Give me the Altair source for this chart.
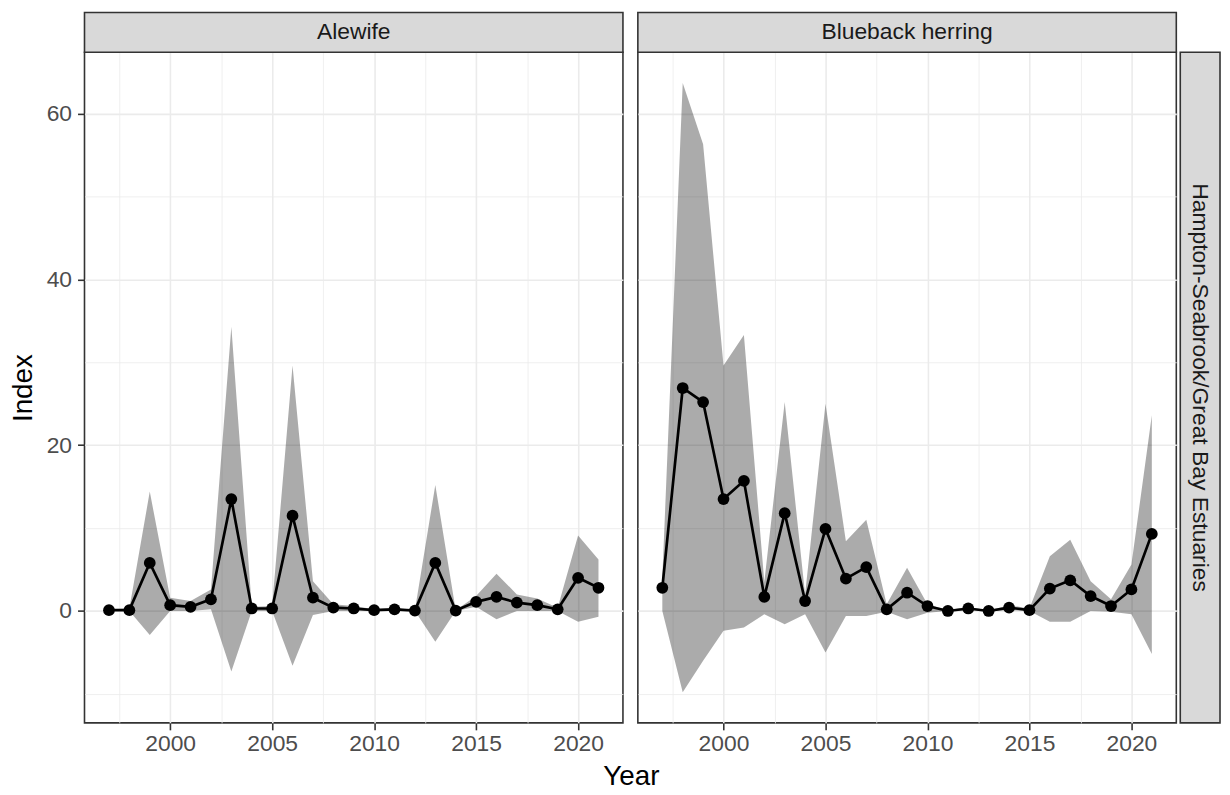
import altair as alt
import pandas as pd

years = list(range(1997, 2022))

alewife_index = [0.1, 0.1, 5.8, 0.7, 0.5, 1.4, 13.5, 0.3, 0.3, 11.5, 1.6, 0.4, 0.3, 0.1, 0.2,
                 0.05, 5.8, 0.05, 1.1, 1.7, 1.0, 0.7, 0.2, 4.0, 2.8]
alewife_lower = [0.0, 0.0, -2.9, 0.0, 0.0, 0.2, -7.3, 0.0, 0.0, -6.6, -0.5, 0.0, 0.0, 0.0, 0.0,
                 0.0, -3.7, 0.0, 0.5, -1.0, 0.0, 0.0, 0.0, -1.3, -0.7]
alewife_upper = [0.2, 0.3, 14.4, 1.6, 1.2, 2.6, 34.3, 0.5, 0.6, 29.6, 3.6, 0.8, 0.6, 0.2, 0.4,
                 0.1, 15.2, 0.1, 1.8, 4.5, 2.0, 1.5, 0.4, 9.1, 6.2]

blueback_index = [2.8, 26.9, 25.2, 13.5, 15.7, 1.7, 11.8, 1.2, 9.9, 3.9, 5.3, 0.2, 2.2, 0.6, 0.0,
                  0.3, 0.0, 0.4, 0.1, 2.7, 3.7, 1.8, 0.6, 2.6, 9.3]
blueback_lower = [0.0, -9.8, -6.0, -2.4, -2.0, -0.4, -1.6, -0.4, -5.0, -0.6, -0.6, -0.1, -1.0, -0.2, 0.0,
                  0.1, 0.0, 0.1, 0.0, -1.3, -1.3, 0.0, -0.1, -0.4, -5.2]
blueback_upper = [4.0, 63.7, 56.3, 29.6, 33.3, 3.5, 25.2, 2.0, 25.0, 8.4, 11.0, 0.8, 5.2, 0.8, 0.1,
                  0.5, 0.05, 0.7, 0.3, 6.6, 8.6, 3.6, 1.4, 5.6, 23.6]

species = ["Alewife", "Blueback herring"]
region = "Hampton-Seabrook/Great Bay Estuaries"

x_grid_values = [1997.5, 2000, 2002.5, 2005, 2007.5, 2010, 2012.5, 2015, 2017.5, 2020]
y_grid_values = [-10, 0, 10, 20, 30, 40, 50, 60]

X_DOMAIN = [1995.8, 2022.2]
Y_DOMAIN = [-13.5, 67.4]

FONT = "Liberation Sans"
PW_L, PW_R, PH = 542, 542, 675
STRIP_H = 40
LABEL_SIZE = 23
TITLE_SIZE = 28

def grid_cond(mod, major, minor):
    return {"condition": {"test": f"datum.value % {mod} === 0", "value": major}, "value": minor}

def x_axis(show_title):
    kw = dict(
        values=x_grid_values,
        labelExpr="datum.value % 5 === 0 ? format(datum.value, 'd') : ''",
        tickOpacity=grid_cond(5, 1, 0),
        gridWidth=grid_cond(5, 1.6, 0.8),
        gridColor="#EBEBEB",
        domain=False,
        tickColor="#333333",
        tickSize=7,
        tickWidth=1.6,
        labelFont=FONT,
        labelFontSize=LABEL_SIZE,
        labelColor="#4D4D4D",
        labelPadding=3,
        labelFlush=False,
        labelOverlap=False,
    )
    if show_title:
        kw.update(title="Year", titleFont=FONT, titleFontSize=TITLE_SIZE, titleFontWeight="normal",
                  titleColor="#000000", titleX=550, titlePadding=7)
    else:
        kw.update(title=None)
    return alt.Axis(**kw)

def y_axis(show):
    kw = dict(
        values=y_grid_values,
        gridWidth=grid_cond(20, 1.6, 0.8),
        gridColor="#EBEBEB",
        domain=False,
    )
    if show:
        kw.update(
            labelExpr="datum.value % 20 === 0 ? format(datum.value, 'd') : ''",
            tickOpacity=grid_cond(20, 1, 0),
            tickColor="#333333",
            tickSize=7,
            tickWidth=1.6,
            labelFont=FONT,
            labelFontSize=LABEL_SIZE,
            labelColor="#4D4D4D",
            labelPadding=6,
            title="Index",
            titleFont=FONT,
            titleFontSize=TITLE_SIZE,
            titleFontWeight="normal",
            titleColor="#000000",
            titlePadding=9,
        )
    else:
        kw.update(labels=False, ticks=False, title=None)
    return alt.Axis(**kw)


def panel(name, idx, lo, hi, width, first):
    df = pd.DataFrame({"Year": years, "Index": idx, "lower": lo, "upper": hi})
    base = alt.Chart(df)
    xs = alt.X("Year:Q", scale=alt.Scale(domain=X_DOMAIN, nice=False, zero=False), axis=x_axis(first))
    ribbon = base.mark_area(color="#000000", opacity=0.33).encode(
        x=xs,
        y=alt.Y("lower:Q", scale=alt.Scale(domain=Y_DOMAIN, nice=False, zero=False), axis=y_axis(first)),
        y2="upper:Q",
    )
    line = base.mark_line(color="#000000", strokeWidth=2.7).encode(x="Year:Q", y="Index:Q")
    pts = base.mark_circle(color="#000000", opacity=1, size=140).encode(x="Year:Q", y="Index:Q")

    sdf = pd.DataFrame({"species": [name]})
    strip = alt.Chart(sdf).mark_rect(fill="#D9D9D9", stroke="#333333", strokeWidth=1.6, clip=False).encode(
        x=alt.value(0), x2=alt.value(width), y=alt.value(-STRIP_H), y2=alt.value(0)
    )
    strip_txt = alt.Chart(sdf).mark_text(font=FONT, fontSize=LABEL_SIZE, color="#1A1A1A", clip=False,
                                          baseline="middle", align="center").encode(
        text="species:N", x=alt.value(width / 2), y=alt.value(-STRIP_H / 2)
    )
    layers = [ribbon, line, pts, strip, strip_txt]
    if not first:
        rdf = pd.DataFrame({"region": [region]})
        rstrip = alt.Chart(rdf).mark_rect(fill="#D9D9D9", stroke="#333333", strokeWidth=1.6, clip=False).encode(
            x=alt.value(width + 4), x2=alt.value(width + 44), y=alt.value(0), y2=alt.value(PH)
        )
        rtxt = alt.Chart(rdf).mark_text(font=FONT, fontSize=LABEL_SIZE, color="#1A1A1A", clip=False, angle=90,
                                         baseline="middle", align="center").encode(
            text="region:N", x=alt.value(width + 24), y=alt.value(PH / 2)
        )
        layers += [rstrip, rtxt]
    return alt.layer(*layers).properties(width=width, height=PH)


left = panel(species[0], alewife_index, alewife_lower, alewife_upper, PW_L, True)
right = panel(species[1], blueback_index, blueback_lower, blueback_upper, PW_R, False)

chart = alt.hconcat(left, right, spacing=15, bounds="flush").properties(
    padding={"left": 0, "top": 0, "right": 0, "bottom": 0}
).configure(
    background="white",
    view=alt.ViewConfig(stroke="#333333", strokeWidth=1.6),
)

chart.save("out.html", embed_options={"renderer": "svg", "actions": False})
